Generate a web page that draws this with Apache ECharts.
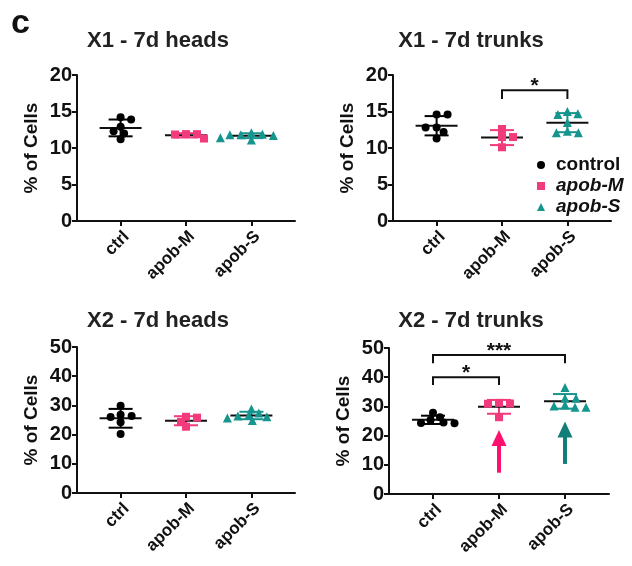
<!DOCTYPE html>
<html>
<head>
<meta charset="utf-8">
<style>
  html, body { margin: 0; padding: 0; background: #fff; }
  #main { width: 632px; height: 566px; }
</style>
<script src="https://cdn.jsdelivr.net/npm/echarts@6/dist/echarts.min.js"></script>
</head>
<body>
<div id="main"></div>
<script>
var cats = ['ctrl', 'apob-M', 'apob-S'];
var groupNames = ['control', 'apob-M', 'apob-S'];
var groupColors = ['#000000', '#f23a7c', '#16948e'];
var groupSymbols = ['circle', 'rect', 'triangle'];
var groupSizes = [8, 8, 9];

var panelTitles = ['X1 - 7d heads', 'X1 - 7d trunks', 'X2 - 7d heads', 'X2 - 7d trunks'];
var panelMax = [20, 20, 50, 50];
var panelStep = [5, 5, 10, 10];

// % of cells per fish, one array per group
var x1HeadsCtrl = [14.2, 13.9, 12.9, 12.3, 12.0, 11.2];
var x1HeadsM = [11.3, 11.9, 11.85, 11.9];
var x1HeadsS = [11.4, 12.1, 11.7, 11.9, 11.8, 11.1, 11.8];

var x1TrunksCtrl = [14.6, 14.6, 12.8, 12.8, 12.2, 11.3];
var x1TrunksM = [12.6, 11.5, 11.5, 10.1];
var x1TrunksS = [14.6, 15.0, 14.7, 13.5, 12.1, 12.3, 12.1];

var x2HeadsCtrl = [29.9, 26.4, 26.8, 26.0, 24.2, 20.2];
var x2HeadsM = [26.1, 25.8, 24.4, 22.7];
var x2HeadsS = [27.4, 24.8, 26.4, 26.1, 28.8, 25.7, 26.6];

var x2TrunksCtrl = [24.5, 26.3, 27.8, 24.3, 25.3, 24.2];
var x2TrunksM = [31.2, 31.0, 30.9, 26.3];
var x2TrunksS = [36.5, 32.8, 29.7, 30.5, 32.8, 29.7, 30.1];

// significance brackets
var bracketPanel = [1, 3, 3];
var bracketFrom = [2, 1, 1];
var bracketTo = [3, 2, 3];
var bracketY = [17.9, 40.0, 47.6];
var bracketDrop = [1.2, 2.7, 2.8];
var bracketLabel = ['*', '*', '***'];

// arrows in X2 trunks
var arrowGroup = [2, 3];
var arrowFrom = [7.3, 10.3];
var arrowTo = [21.9, 24.8];
var arrowColors = ['#ff0f6e', '#127d79'];

var panelData = [
  [x1HeadsCtrl, x1HeadsM, x1HeadsS],
  [x1TrunksCtrl, x1TrunksM, x1TrunksS],
  [x2HeadsCtrl, x2HeadsM, x2HeadsS],
  [x2TrunksCtrl, x2TrunksM, x2TrunksS]
];

var FONT = 'Liberation Sans, Arial, sans-serif';
var INK = '#111';

var grids = [
  { left: 77, top: 75, width: 218, height: 146 },
  { left: 393, top: 75, width: 218, height: 146 },
  { left: 77, top: 347, width: 218, height: 146 },
  { left: 389, top: 348, width: 220, height: 146 }
];

function mean(a) {
  var s = 0;
  for (var i = 0; i < a.length; i++) s += a[i];
  return s / a.length;
}
function sdev(a) {
  var m = mean(a), s = 0;
  for (var i = 0; i < a.length; i++) s += (a[i] - m) * (a[i] - m);
  return Math.sqrt(s / (a.length - 1));
}

// simple beeswarm, returns horizontal pixel offsets
function swarm(vals, pxPerUnit) {
  var sx = 11, sy = 5.5;
  var idx = vals.map(function (v, i) { return i; });
  idx.sort(function (a, b) { return vals[b] - vals[a]; });
  var placed = [];
  var off = [];
  var bal = 0;
  idx.forEach(function (i) {
    var y = vals[i] * pxPerUnit;
    var got = null;
    for (var d = 0; d < 100 && got === null; d += 0.5) {
      var cands = d === 0 ? [0] : (bal > 0 ? [-d, d] : [d, -d]);
      for (var c = 0; c < cands.length; c++) {
        var x = cands[c], ok = true;
        for (var p = 0; p < placed.length; p++) {
          var dx = (x - placed[p][0]) / sx, dy = (y - placed[p][1]) / sy;
          if (dx * dx + dy * dy < 1) { ok = false; break; }
        }
        if (ok) { got = x; break; }
      }
    }
    bal += got > 0 ? 1 : (got < 0 ? -1 : 0);
    placed.push([got, y]);
    off[i] = got;
  });
  return off;
}

function renderErr(params, api) {
  var x = api.value(0), m = api.value(1), sd = api.value(2);
  var c = api.coord([x, m]);
  var hi = api.coord([x, m + sd]);
  var lo = api.coord([x, m - sd]);
  var col = groupColors[x - 1];
  return {
    type: 'group',
    children: [
      { type: 'line', shape: { x1: c[0], y1: hi[1], x2: c[0], y2: lo[1] }, style: { stroke: col, lineWidth: 2 } },
      { type: 'line', shape: { x1: hi[0] - 12, y1: hi[1], x2: hi[0] + 12, y2: hi[1] }, style: { stroke: col, lineWidth: 2 } },
      { type: 'line', shape: { x1: lo[0] - 12, y1: lo[1], x2: lo[0] + 12, y2: lo[1] }, style: { stroke: col, lineWidth: 2 } },
      { type: 'line', shape: { x1: c[0] - 21, y1: c[1], x2: c[0] + 21, y2: c[1] }, style: { stroke: INK, lineWidth: 2 } }
    ]
  };
}

function renderBracket(params, api) {
  var a = api.coord([api.value(0), api.value(2)]);
  var b = api.coord([api.value(1), api.value(2)]);
  var lowA = api.coord([api.value(0), api.value(2) - api.value(3)]);
  var label = bracketLabel[api.value(4)];
  return {
    type: 'group',
    children: [
      { type: 'polyline', shape: { points: [[a[0], lowA[1]], a, b, [b[0], lowA[1]]] },
        style: { stroke: INK, lineWidth: 2, fill: null } },
      { type: 'text', style: { text: label, x: (a[0] + b[0]) / 2, y: a[1] - 4,
        align: 'center', verticalAlign: 'middle', font: 'bold 21px ' + FONT, fill: INK } }
    ]
  };
}

function renderArrow(params, api) {
  var k = api.value(3);
  var base = api.coord([api.value(0), api.value(1)]);
  var tip = api.coord([api.value(0), api.value(2)]);
  var col = arrowColors[k];
  var head = 16, half = 7.5;
  return {
    type: 'group',
    children: [
      { type: 'rect', shape: { x: tip[0] - 2, y: tip[1] + head - 1, width: 4, height: base[1] - tip[1] - head + 1 },
        style: { fill: col } },
      { type: 'polygon', shape: { points: [[tip[0], tip[1]], [tip[0] - half, tip[1] + head], [tip[0] + half, tip[1] + head]] },
        style: { fill: col } }
    ]
  };
}

var xAxes = [], yAxes = [], series = [], titles = [];
var titleX = [153, 466, 153, 466];
var titleY = [25, 25, 305, 305];

for (var p = 0; p < 4; p++) {
  titles.push({
    text: panelTitles[p], left: titleX[p], top: titleY[p], textAlign: 'center',
    textStyle: { fontFamily: FONT, fontWeight: 'bold', fontSize: 22, color: '#222' }
  });
  xAxes.push({
    type: 'value', gridIndex: p, min: 1 / 3, max: 11 / 3,
    axisLine: { show: true, onZero: false, lineStyle: { color: INK, width: 2 } },
    axisTick: { show: true, customValues: [1, 2, 3], length: 5, lineStyle: { color: INK, width: 2 } },
    axisLabel: {
      customValues: [1, 2, 3], rotate: 45, margin: 7, verticalAlign: 'top',
      formatter: function (v) { return cats[Math.round(v) - 1]; },
      fontFamily: FONT, fontWeight: 'bold', fontSize: 17, color: INK
    },
    splitLine: { show: false }
  });
  yAxes.push({
    type: 'value', gridIndex: p, min: 0, max: panelMax[p], interval: panelStep[p],
    name: '% of Cells', nameLocation: 'middle', nameGap: 36,
    nameTextStyle: { fontFamily: FONT, fontWeight: 'bold', fontSize: 19, color: INK },
    axisLine: { show: true, lineStyle: { color: INK, width: 2 } },
    axisTick: { show: true, length: 5, lineStyle: { color: INK, width: 2 } },
    axisLabel: { margin: 5, fontFamily: FONT, fontWeight: 'bold', fontSize: 20, color: INK },
    splitLine: { show: false }
  });

  var pxPerUnit = grids[p].height / panelMax[p];
  var errData = [];
  for (var g = 0; g < 3; g++) {
    var vals = panelData[p][g];
    var offs = swarm(vals, pxPerUnit);
    errData.push([g + 1, mean(vals), sdev(vals)]);
    series.push({
      name: groupNames[g], type: 'scatter', xAxisIndex: p, yAxisIndex: p,
      symbol: groupSymbols[g], symbolSize: groupSizes[g], z: 5,
      itemStyle: { color: groupColors[g], opacity: 1 },
      emphasis: { disabled: true },
      data: vals.map(function (v, i) {
        return { value: [g + 1, v], symbolOffset: [offs[i], 0] };
      })
    });
  }
  series.push({
    type: 'custom', xAxisIndex: p, yAxisIndex: p, z: 3, silent: true,
    renderItem: renderErr, data: errData
  });
}

for (var b = 0; b < bracketPanel.length; b++) {
  series.push({
    type: 'custom', xAxisIndex: bracketPanel[b], yAxisIndex: bracketPanel[b], silent: true, clip: false,
    renderItem: renderBracket,
    data: [[bracketFrom[b], bracketTo[b], bracketY[b], bracketDrop[b], b]]
  });
}

series.push({
  type: 'custom', xAxisIndex: 3, yAxisIndex: 3, silent: true,
  renderItem: renderArrow,
  data: arrowGroup.map(function (g, i) { return [g, arrowFrom[i], arrowTo[i], i]; })
});

var chart = echarts.init(document.getElementById('main'), null, { renderer: 'canvas' });
chart.setOption({
  backgroundColor: '#fff',
  animation: false,
  title: titles,
  grid: grids,
  xAxis: xAxes,
  yAxis: yAxes,
  legend: {
    orient: 'vertical', left: 537, top: 155, padding: 0, itemGap: 1,
    itemWidth: 8, itemHeight: 8, itemStyle: { borderWidth: 0 },
    selectedMode: false,
    data: [
      { name: 'control', icon: 'circle' },
      { name: 'apob-M', icon: 'rect' },
      { name: 'apob-S', icon: 'triangle' }
    ],
    formatter: function (name) { return name === 'control' ? name : '{i|' + name + '}'; },
    textStyle: {
      fontFamily: FONT, fontWeight: 'bold', fontSize: 19, color: INK, lineHeight: 20, padding: [0, 0, 0, 6],
      rich: { i: { fontFamily: FONT, fontWeight: 'bold', fontStyle: 'italic', fontSize: 19, color: INK } }
    }
  },
  graphic: [{
    type: 'text', left: 11, top: 7,
    style: { text: 'c', font: 'bold 34px ' + FONT, fill: INK }
  }],
  series: series
});
</script>
</body>
</html>
